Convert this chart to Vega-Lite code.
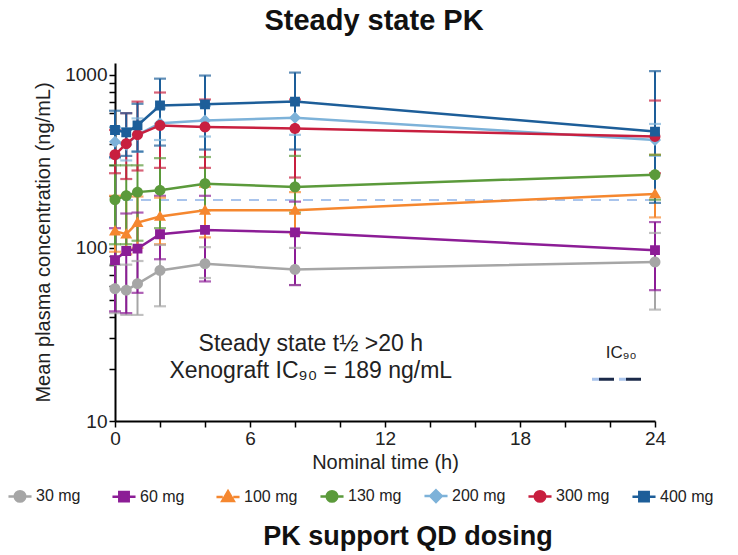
{
  "$schema": "https://vega.github.io/schema/vega-lite/v6.json",
  "background": "white",
  "autosize": {"type": "pad"},
  "padding": {"left": 12, "top": 7, "right": 0, "bottom": 4},
  "config": {
    "font": "Liberation Sans",
    "view": {"stroke": null},
    "axis": {"domainColor": "#000", "domainWidth": 2, "tickColor": "#000", "tickWidth": 1.5, "tickSize": 6, "labelFontSize": 19, "labelColor": "#222", "titleFontSize": 20, "titleFontWeight": "normal", "titleColor": "#222", "grid": false, "labelOverlap": false, "labelBound": false, "labelFlush": false},
    "legend": {"padding": 0}
  },
  "title": {"text": "PK support QD dosing", "orient": "bottom", "anchor": "middle", "fontSize": 27, "fontWeight": "bold", "color": "#111", "dx": 45, "offset": 17},
  "datasets": {
    "pk": [
      {"dose": "30 mg", "t": 0, "mean": 58, "lo": 42, "hi": 80},
      {"dose": "30 mg", "t": 0.5, "mean": 57, "lo": 41, "hi": 80},
      {"dose": "30 mg", "t": 1, "mean": 62, "lo": 41, "hi": 84},
      {"dose": "30 mg", "t": 2, "mean": 74, "lo": 46, "hi": 104},
      {"dose": "30 mg", "t": 4, "mean": 81, "lo": 67, "hi": 101},
      {"dose": "30 mg", "t": 8, "mean": 75, "lo": 61, "hi": 100},
      {"dose": "30 mg", "t": 24, "mean": 83, "lo": 44, "hi": 122},
      {"dose": "60 mg", "t": 0, "mean": 85, "lo": 43, "hi": 130},
      {"dose": "60 mg", "t": 0.5, "mean": 96, "lo": 42, "hi": 158},
      {"dose": "60 mg", "t": 1, "mean": 99, "lo": 55, "hi": 160},
      {"dose": "60 mg", "t": 2, "mean": 120, "lo": 86, "hi": 200},
      {"dose": "60 mg", "t": 4, "mean": 127, "lo": 64, "hi": 200},
      {"dose": "60 mg", "t": 8, "mean": 123, "lo": 61, "hi": 185},
      {"dose": "60 mg", "t": 24, "mean": 97, "lo": 57, "hi": 141},
      {"dose": "100 mg", "t": 0, "mean": 125, "lo": 95, "hi": 200},
      {"dose": "100 mg", "t": 0.5, "mean": 120, "lo": 92, "hi": 200},
      {"dose": "100 mg", "t": 1, "mean": 140, "lo": 100, "hi": 198},
      {"dose": "100 mg", "t": 2, "mean": 152, "lo": 105, "hi": 195},
      {"dose": "100 mg", "t": 4, "mean": 165, "lo": 115, "hi": 225},
      {"dose": "100 mg", "t": 8, "mean": 165, "lo": 120, "hi": 210},
      {"dose": "100 mg", "t": 24, "mean": 205, "lo": 150, "hi": 345},
      {"dose": "130 mg", "t": 0, "mean": 190, "lo": 105, "hi": 300},
      {"dose": "130 mg", "t": 0.5, "mean": 200, "lo": 105, "hi": 300},
      {"dose": "130 mg", "t": 1, "mean": 210, "lo": 110, "hi": 300},
      {"dose": "130 mg", "t": 2, "mean": 215, "lo": 130, "hi": 330},
      {"dose": "130 mg", "t": 4, "mean": 235, "lo": 165, "hi": 335},
      {"dose": "130 mg", "t": 8, "mean": 225, "lo": 160, "hi": 340},
      {"dose": "130 mg", "t": 24, "mean": 265, "lo": 190, "hi": 345},
      {"dose": "200 mg", "t": 0, "mean": 410, "lo": 330, "hi": 500},
      {"dose": "200 mg", "t": 0.5, "mean": 395, "lo": 320, "hi": 490},
      {"dose": "200 mg", "t": 1, "mean": 450, "lo": 360, "hi": 560},
      {"dose": "200 mg", "t": 2, "mean": 525, "lo": 420, "hi": 640},
      {"dose": "200 mg", "t": 4, "mean": 545, "lo": 440, "hi": 660},
      {"dose": "200 mg", "t": 8, "mean": 565, "lo": 450, "hi": 700},
      {"dose": "200 mg", "t": 24, "mean": 420, "lo": 340, "hi": 520},
      {"dose": "300 mg", "t": 0, "mean": 345, "lo": 270, "hi": 480},
      {"dose": "300 mg", "t": 0.5, "mean": 400, "lo": 250, "hi": 600},
      {"dose": "300 mg", "t": 1, "mean": 450, "lo": 280, "hi": 700},
      {"dose": "300 mg", "t": 2, "mean": 510, "lo": 290, "hi": 790},
      {"dose": "300 mg", "t": 4, "mean": 500, "lo": 290, "hi": 720},
      {"dose": "300 mg", "t": 8, "mean": 490, "lo": 255, "hi": 720},
      {"dose": "300 mg", "t": 24, "mean": 440, "lo": 270, "hi": 710},
      {"dose": "400 mg", "t": 0, "mean": 480, "lo": 335, "hi": 620},
      {"dose": "400 mg", "t": 0.5, "mean": 465, "lo": 340, "hi": 600},
      {"dose": "400 mg", "t": 1, "mean": 510, "lo": 360, "hi": 680},
      {"dose": "400 mg", "t": 2, "mean": 665, "lo": 390, "hi": 950},
      {"dose": "400 mg", "t": 4, "mean": 675, "lo": 370, "hi": 990},
      {"dose": "400 mg", "t": 8, "mean": 700, "lo": 370, "hi": 1030},
      {"dose": "400 mg", "t": 24, "mean": 470, "lo": 182, "hi": 1050}
    ],
    "ic90": [{"ic": 189}],
    "notes": [
      {"t": 8.7, "c": 28, "label": "Steady state t½ >20 h"},
      {"t": 8.7, "c": 19.4, "label": "Xenograft IC₉₀ = 189 ng/mL"}
    ],
    "iclabel": [{"t": 22.5, "c": 24.6, "label": "IC₉₀"}],
    "icseg": [{"t": 21.2, "t2": 23.6, "c": 17.4}]
  },
  "vconcat": [
    {
      "title": {"text": "Steady state PK", "fontSize": 29, "fontWeight": "bold", "color": "#111", "anchor": "middle", "frame": "group", "dx": -11, "offset": 27},
      "width": 540,
      "height": 358,
      "layer": [
        {
          "data": {"name": "ic90"},
          "mark": {"type": "rule", "color": "#a9c4ec", "strokeWidth": 2, "strokeDash": [10, 8]},
          "encoding": {
            "y": {"field": "ic", "type": "quantitative", "title": "Mean plasma concentration (ng/mL)", "scale": {"type": "log", "domain": [10, 1170], "nice": false}, "axis": {"values": [10, 20, 30, 40, 50, 60, 70, 80, 90, 100, 200, 300, 400, 500, 600, 700, 800, 900, 1000], "labelExpr": "(datum.value == 10 || datum.value == 100 || datum.value == 1000) ? format(datum.value, 'd') : ''", "titlePadding": 11}}
          }
        },
        {
          "data": {"name": "pk"},
          "layer": [
            {
              "mark": {"type": "rule", "strokeWidth": 2},
              "encoding": {
                "x": {"field": "t", "type": "quantitative", "title": "Nominal time (h)", "scale": {"domain": [0, 24], "nice": false, "zero": false}, "axis": {"values": [0,1,2,3,4,5,6,7,8,9,10,11,12,13,14,15,16,17,18,19,20,21,22,23,24], "labelExpr": "datum.value % 6 === 0 ? datum.label : ''", "titlePadding": 4}},
                "y": {"field": "lo", "type": "quantitative", "title": "Mean plasma concentration (ng/mL)"},
                "y2": {"field": "hi"},
                "color": {"field": "dose", "type": "nominal"}
              }
            },
            {
              "mark": {"type": "tick", "orient": "horizontal", "size": 12, "thickness": 2.2},
              "encoding": {
                "x": {"field": "t", "type": "quantitative", "title": "Nominal time (h)"},
                "y": {"field": "lo", "type": "quantitative", "title": "Mean plasma concentration (ng/mL)"},
                "color": {"field": "dose", "type": "nominal"}
              }
            },
            {
              "mark": {"type": "tick", "orient": "horizontal", "size": 12, "thickness": 2.2},
              "encoding": {
                "x": {"field": "t", "type": "quantitative", "title": "Nominal time (h)"},
                "y": {"field": "hi", "type": "quantitative", "title": "Mean plasma concentration (ng/mL)"},
                "color": {"field": "dose", "type": "nominal"}
              }
            },
            {
              "mark": {"type": "line", "strokeWidth": 2.5},
              "encoding": {
                "x": {"field": "t", "type": "quantitative", "title": "Nominal time (h)"},
                "y": {"field": "mean", "type": "quantitative", "title": "Mean plasma concentration (ng/mL)"},
                "color": {"field": "dose", "type": "nominal"}
              }
            },
            {
              "mark": {"type": "point", "filled": true, "opacity": 1, "size": 120, "strokeWidth": 0},
              "encoding": {
                "x": {"field": "t", "type": "quantitative", "title": "Nominal time (h)"},
                "y": {"field": "mean", "type": "quantitative", "title": "Mean plasma concentration (ng/mL)"},
                "color": {"field": "dose", "type": "nominal", "scale": {"domain": ["30 mg", "60 mg", "100 mg", "130 mg", "200 mg", "300 mg", "400 mg"], "range": ["#a6a6a6", "#8c1d96", "#f5872f", "#5b9a3b", "#7db2d9", "#c81f3f", "#1d5e99"]},
                  "legend": {"orient": "none", "legendX": -103, "legendY": 425, "direction": "horizontal", "columns": 7, "gridAlign": "all", "columnPadding": 17, "title": null, "labelFontSize": 16, "labelColor": "#222", "symbolSize": 110, "symbolOpacity": 1, "symbolStrokeWidth": 2.5, "labelOffset": 8,
                    "encode": {"symbols": {"update": {"stroke": {"scale": "color", "field": "value"}, "strokeWidth": {"value": 2.5}, "opacity": {"value": 1}}}}}},
                "shape": {"field": "dose", "type": "nominal", "scale": {"domain": ["30 mg", "60 mg", "100 mg", "130 mg", "200 mg", "300 mg", "400 mg"], "range": [
                  "M-2.2,0H-1M1,0H2.2M-1,0A1,1,0,1,1,1,0A1,1,0,1,1,-1,0Z",
                  "M-2.2,0H-0.9M0.9,0H2.2M-0.9,-0.9H0.9V0.9H-0.9Z",
                  "M-2.2,0H-1M1,0H2.2M0,-1.1L1.1,0.8H-1.1Z",
                  "M-2.2,0H-1M1,0H2.2M-1,0A1,1,0,1,1,1,0A1,1,0,1,1,-1,0Z",
                  "M-2.2,0H-1.1M1.1,0H2.2M0,-1.1L1.1,0L0,1.1L-1.1,0Z",
                  "M-2.2,0H-1M1,0H2.2M-1,0A1,1,0,1,1,1,0A1,1,0,1,1,-1,0Z",
                  "M-2.2,0H-0.9M0.9,0H2.2M-0.9,-0.9H0.9V0.9H-0.9Z"]}}
              }
            }
          ]
        },
        {
          "data": {"name": "notes"},
          "mark": {"type": "text", "fontSize": 23, "color": "#222", "align": "center", "baseline": "middle"},
          "encoding": {
            "x": {"field": "t", "type": "quantitative", "title": "Nominal time (h)"},
            "y": {"field": "c", "type": "quantitative", "title": "Mean plasma concentration (ng/mL)"},
            "text": {"field": "label"}
          }
        },
        {
          "data": {"name": "iclabel"},
          "mark": {"type": "text", "fontSize": 17, "color": "#222", "align": "center", "baseline": "middle"},
          "encoding": {
            "x": {"field": "t", "type": "quantitative", "title": "Nominal time (h)"},
            "y": {"field": "c", "type": "quantitative", "title": "Mean plasma concentration (ng/mL)"},
            "text": {"field": "label"}
          }
        },
        {
          "data": {"name": "icseg"},
          "mark": {"type": "rule", "color": "#a9c4ec", "strokeWidth": 3, "strokeDash": [7, 20]},
          "encoding": {
            "x": {"field": "t", "type": "quantitative", "title": "Nominal time (h)"},
            "x2": {"field": "t2"},
            "y": {"field": "c", "type": "quantitative", "title": "Mean plasma concentration (ng/mL)"}
          }
        },
        {
          "data": {"name": "icseg"},
          "mark": {"type": "rule", "color": "#1b2a4a", "strokeWidth": 3, "strokeDash": [0, 7, 15, 5]},
          "encoding": {
            "x": {"field": "t", "type": "quantitative", "title": "Nominal time (h)"},
            "x2": {"field": "t2"},
            "y": {"field": "c", "type": "quantitative", "title": "Mean plasma concentration (ng/mL)"}
          }
        }
      ]
    }
  ]
}
